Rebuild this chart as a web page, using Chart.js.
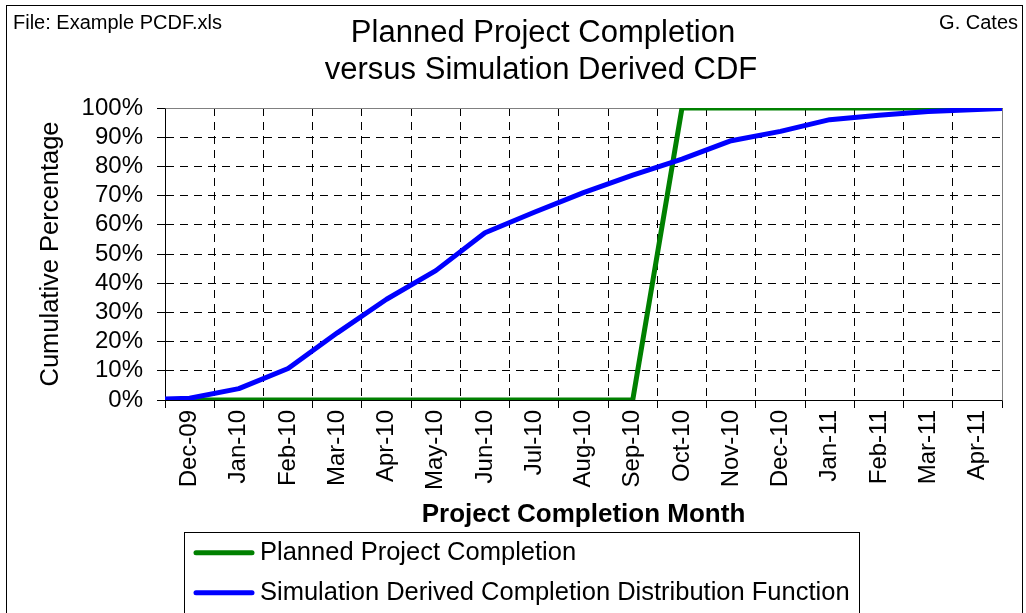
<!DOCTYPE html>
<html>
<head>
<meta charset="utf-8">
<script src="https://cdn.jsdelivr.net/npm/chart.js@4.4.0/dist/chart.umd.min.js"></script>
<style>
  html, body { margin: 0; padding: 0; background: #fff; overflow: hidden; }
  canvas { display: block; }
</style>
</head>
<body>
<canvas id="cdfChart" width="1026" height="613"></canvas>
<script>
// datos
const months = ['Dec-09', 'Jan-10', 'Feb-10', 'Mar-10', 'Apr-10', 'May-10', 'Jun-10', 'Jul-10', 'Aug-10',
    'Sep-10', 'Oct-10', 'Nov-10', 'Dec-10', 'Jan-11', 'Feb-11', 'Mar-11', 'Apr-11'];
const plannedPct = [0, 0, 0, 0, 0, 0, 0, 0, 0, 0, 100, 100, 100, 100, 100, 100, 100];
// posicion en meses (0 = Dec-09) de cada punto de la simulacion
const simulationMonth = [-0.5, 0, 1, 2, 3, 4, 5, 6, 7, 8, 9, 10, 11, 12, 13, 14, 15, 16, 16.5];
const simulationPct = [0.3, 0.6, 3.9, 10.8, 23, 34.5, 44.3, 57.3, 64.3, 71, 77, 82.5, 88.8, 92, 96, 97.5, 98.8, 99.5, 99.8];
const percentTicks = [0, 10, 20, 30, 40, 50, 60, 70, 80, 90, 100];

const FONT = '"Liberation Sans", Arial, Helvetica, sans-serif';
Chart.defaults.font.family = FONT;
Chart.defaults.color = '#000';

const align = v => Math.round(v - 0.5) + 0.5;

// fondo, marco del area, titulos y leyenda
const pageDecor = {
    id: 'pageDecor',
    beforeDraw(chart) {
        const ctx = chart.ctx;
        ctx.save();
        ctx.fillStyle = '#fff';
        ctx.fillRect(0, 0, chart.width, chart.height);
        ctx.restore();
    },
    beforeDatasetsDraw(chart) {
        const { ctx, chartArea: a } = chart;
        ctx.save();
        ctx.strokeStyle = '#808080';
        ctx.lineWidth = 1;
        ctx.beginPath();
        ctx.moveTo(align(a.left), align(a.top));
        ctx.lineTo(align(a.right), align(a.top));
        ctx.lineTo(align(a.right), align(a.bottom));
        ctx.stroke();
        ctx.restore();
    },
    afterDraw(chart) {
        const ctx = chart.ctx;
        ctx.save();

        // borde exterior
        ctx.strokeStyle = '#000';
        ctx.lineWidth = 1;
        ctx.strokeRect(6.5, 5.5, 1016, 700);

        // textos de cabecera
        ctx.fillStyle = '#000';
        ctx.textBaseline = 'alphabetic';
        ctx.font = '20px ' + FONT;
        ctx.textAlign = 'left';
        ctx.fillText('File: Example PCDF.xls', 13, 28.5);
        ctx.textAlign = 'right';
        ctx.fillText('G. Cates', 1018, 28.5);

        // titulo
        ctx.font = '31px ' + FONT;
        ctx.textAlign = 'center';
        ctx.fillText('Planned Project Completion', 543, 41.7);
        ctx.fillText('versus Simulation Derived CDF', 541, 78.5);

        // leyenda
        ctx.strokeStyle = '#000';
        ctx.lineWidth = 1;
        ctx.strokeRect(184.5, 532.5, 675, 120);
        ctx.font = '25.5px ' + FONT;
        ctx.textAlign = 'left';
        chart.data.datasets.forEach((ds, i) => {
            const cy = 552.7 + i * 40;
            ctx.strokeStyle = ds.borderColor;
            ctx.lineWidth = ds.borderWidth;
            ctx.lineCap = 'round';
            ctx.beginPath();
            ctx.moveTo(196, cy);
            ctx.lineTo(252, cy);
            ctx.stroke();
            ctx.fillStyle = '#000';
            ctx.fillText(ds.label, 260, cy + 7.3);
        });
        ctx.restore();
    }
};

new Chart(document.getElementById('cdfChart'), {
    type: 'line',
    data: {
        datasets: [{
            label: 'Planned Project Completion',
            data: plannedPct.map((v, i) => ({ x: i, y: v })),
            borderColor: '#008000',
            borderWidth: 5,
            pointRadius: 0,
            tension: 0,
            order: 1
        }, {
            label: 'Simulation Derived Completion Distribution Function',
            data: simulationPct.map((v, i) => ({ x: simulationMonth[i], y: v })),
            borderColor: '#0000ff',
            borderWidth: 5,
            borderJoinStyle: 'round',
            pointRadius: 0,
            tension: 0,
            order: 0
        }]
    },
    options: {
        responsive: false,
        animation: false,
        devicePixelRatio: 1,
        layout: { padding: { left: 36, right: 24, top: 108, bottom: 83 } },
        plugins: {
            legend: { display: false },
            title: { display: false },
            tooltip: { enabled: false }
        },
        scales: {
            x: {
                type: 'linear',
                display: false,
                min: -0.5,
                max: 16.5
            },
            xc: {
                type: 'category',
                labels: months,
                position: 'bottom',
                offset: true,
                grid: { offset: true, color: '#000', lineWidth: 1, tickLength: 8, tickBorderDash: [] },
                border: { color: '#000', width: 1, dash: [8, 6] },
                ticks: {
                    color: '#000',
                    font: { size: 24 },
                    minRotation: 90,
                    maxRotation: 90,
                    autoSkip: false,
                    padding: 2
                },
                title: {
                    display: true,
                    text: 'Project Completion Month',
                    color: '#000',
                    font: { size: 26, weight: 'bold' },
                    padding: 0
                },
                afterFit: s => { s.height = 130; }
            },
            y: {
                min: 0,
                max: 100,
                afterBuildTicks: s => { s.ticks = percentTicks.map(v => ({ value: v })); },
                grid: { color: '#000', lineWidth: 1, tickLength: 8, tickBorderDash: [] },
                border: { color: '#000', width: 1, dash: [8, 6] },
                ticks: {
                    color: '#000',
                    font: { size: 24 },
                    padding: 14,
                    autoSkip: false,
                    callback: v => v + '%'
                },
                title: {
                    display: true,
                    text: 'Cumulative Percentage',
                    color: '#000',
                    font: { size: 25.5 },
                    padding: 0
                },
                afterFit: s => { s.width = 129; }
            }
        }
    },
    plugins: [pageDecor]
});
</script>
</body>
</html>
